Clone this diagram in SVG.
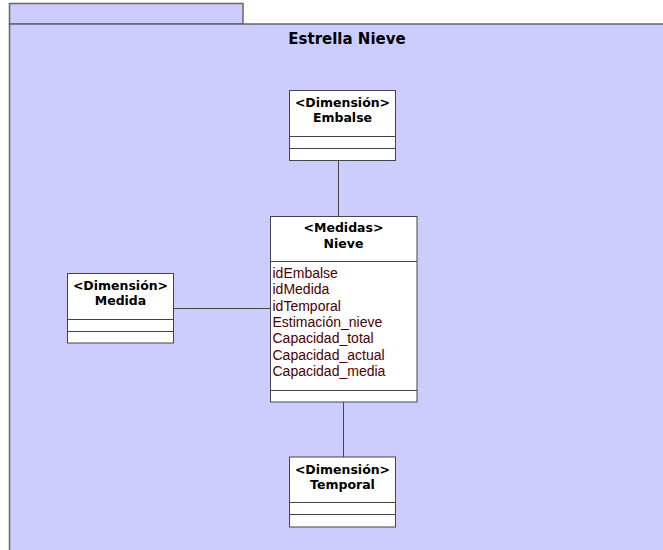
<svg xmlns="http://www.w3.org/2000/svg" width="663" height="550" viewBox="0 0 663 550">
<style>
.pkg{fill:#ccccff;stroke:#666;stroke-width:1.5}
.box{fill:#fff;stroke:#444;stroke-width:1}
.sep{stroke:#444;stroke-width:1}
.con{stroke:#444;stroke-width:1;fill:none}
.hd{font-family:"DejaVu Sans",Verdana,sans-serif;font-weight:bold;font-size:12.5px;fill:#000;text-anchor:middle}
.title{font-family:"DejaVu Sans",Verdana,sans-serif;font-weight:bold;font-size:15px;fill:#000;text-anchor:middle}
.att{font-family:"Liberation Sans",Arial,sans-serif;font-size:14px;fill:#4a0000}
</style>
<g id="package">
<rect class="pkg" x="9.5" y="3.5" width="233.5" height="20.5"/>
<rect class="pkg" x="9.5" y="24" width="700" height="600"/>
<text class="title" x="347" y="44">Estrella Nieve</text>
</g>
<g id="connectors">
<line class="con" x1="338.5" y1="160.5" x2="338.5" y2="216"/>
<line class="con" x1="173" y1="308.5" x2="270" y2="308.5"/>
<line class="con" x1="343.5" y1="402" x2="343.5" y2="457"/>
</g>
<g id="embalse">
<rect class="box" x="289.5" y="90.5" width="106" height="70"/>
<line class="sep" x1="289.5" y1="136.5" x2="395.5" y2="136.5"/>
<line class="sep" x1="289.5" y1="148.5" x2="395.5" y2="148.5"/>
<text class="hd" x="342.5" y="107">&lt;Dimensión&gt;</text>
<text class="hd" x="342.5" y="122">Embalse</text>
</g>
<g id="nieve">
<rect class="box" x="270.5" y="216.5" width="146.5" height="185.5"/>
<line class="sep" x1="270.5" y1="261.5" x2="417" y2="261.5"/>
<line class="sep" x1="270.5" y1="390.5" x2="417" y2="390.5"/>
<text class="hd" x="343.5" y="231.5">&lt;Medidas&gt;</text>
<text class="hd" x="343.5" y="247.5">Nieve</text>
<text class="att" x="272.5" y="278">idEmbalse</text>
<text class="att" x="272.5" y="294.3">idMedida</text>
<text class="att" x="272.5" y="310.6">idTemporal</text>
<text class="att" x="272.5" y="326.9">Estimación_nieve</text>
<text class="att" x="272.5" y="343.2">Capacidad_total</text>
<text class="att" x="272.5" y="359.5">Capacidad_actual</text>
<text class="att" x="272.5" y="375.8">Capacidad_media</text>
</g>
<g id="medida">
<rect class="box" x="67.5" y="273.5" width="106" height="69.5"/>
<line class="sep" x1="67.5" y1="319.5" x2="173.5" y2="319.5"/>
<line class="sep" x1="67.5" y1="331.5" x2="173.5" y2="331.5"/>
<text class="hd" x="120.5" y="290">&lt;Dimensión&gt;</text>
<text class="hd" x="120.5" y="305">Medida</text>
</g>
<g id="temporal">
<rect class="box" x="289.5" y="457" width="106" height="70"/>
<line class="sep" x1="289.5" y1="502.5" x2="395.5" y2="502.5"/>
<line class="sep" x1="289.5" y1="514.5" x2="395.5" y2="514.5"/>
<text class="hd" x="342.5" y="473.5">&lt;Dimensión&gt;</text>
<text class="hd" x="342.5" y="488.5">Temporal</text>
</g>
</svg>
